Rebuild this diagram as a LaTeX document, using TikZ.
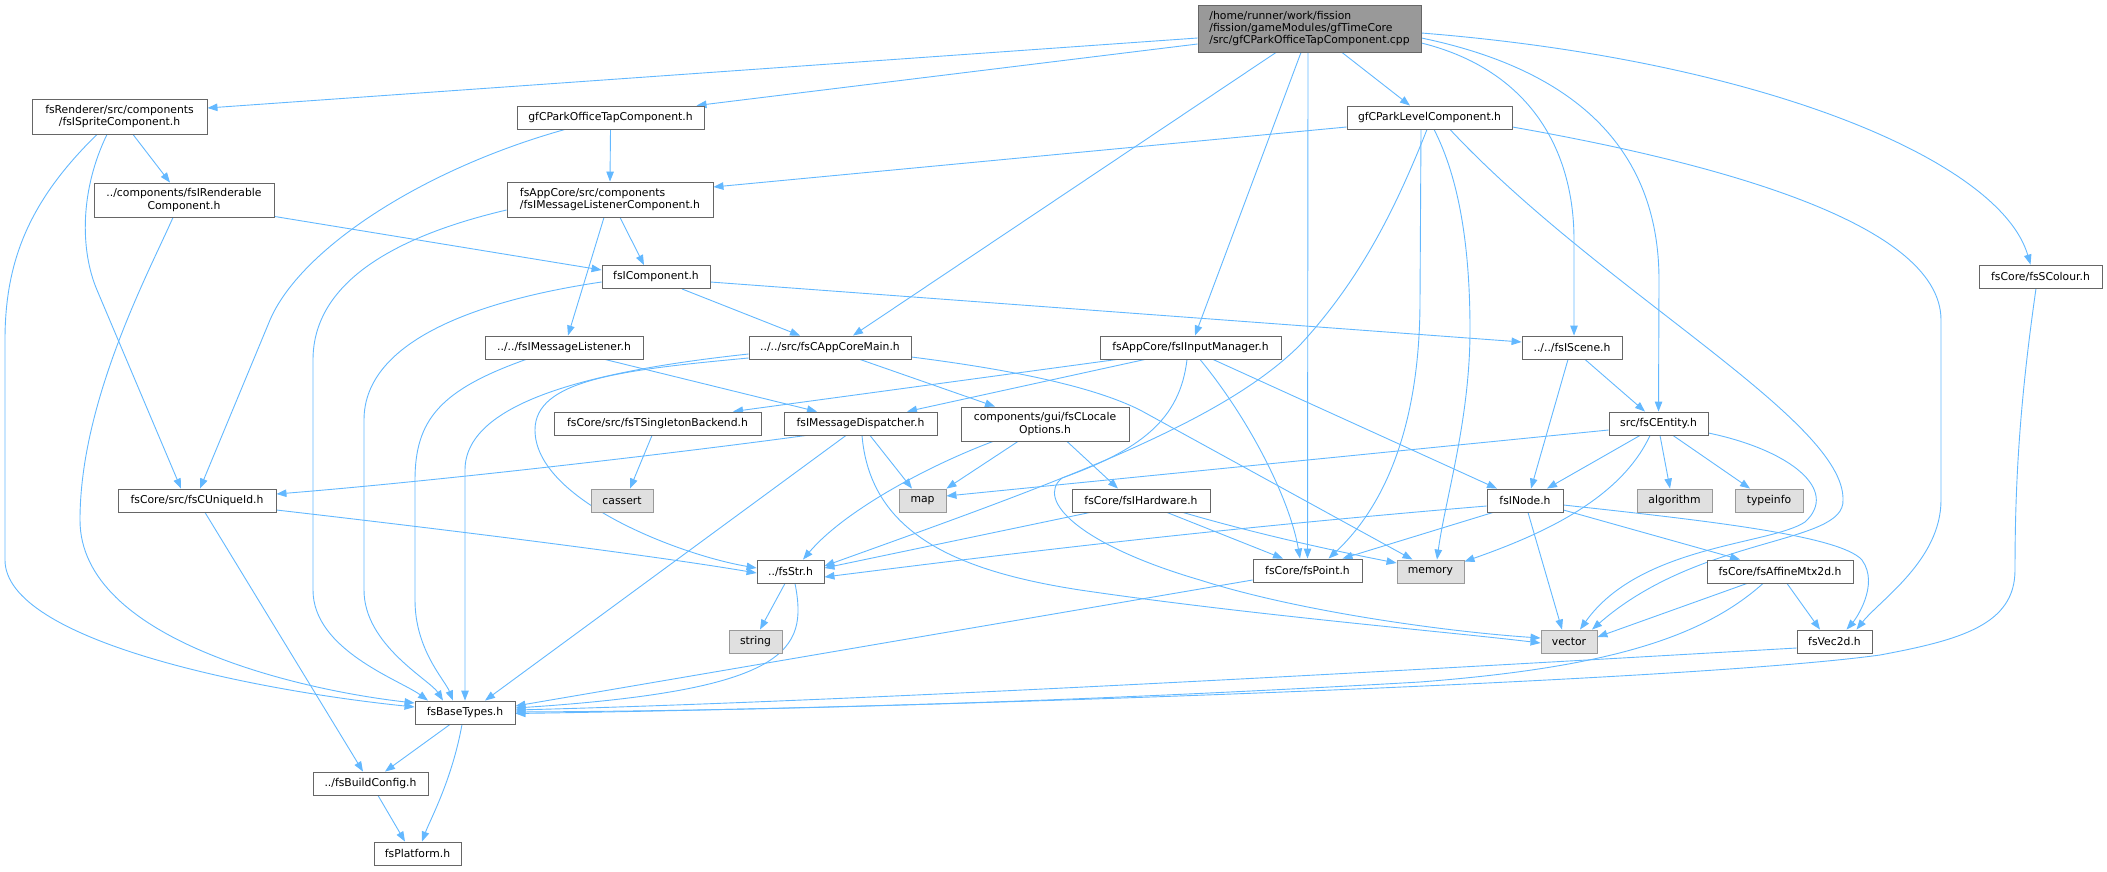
\documentclass[tikz,border=0pt]{standalone}
\usepackage{fontspec}
\setmainfont{DejaVu Sans}
\usetikzlibrary{arrows.meta,backgrounds}
\definecolor{edgec}{HTML}{63B8FF}
\definecolor{bordc}{HTML}{666666}
\definecolor{extb}{HTML}{999999}
\definecolor{extf}{HTML}{E0E0E0}
\begin{document}
\begin{tikzpicture}[x=1pt,y=-1pt,
  nd/.style={draw=bordc, fill=white, line width=0.9pt, inner sep=0pt, align=center, font=\fontsize{10.8}{12.4}\selectfont},
  ext/.style={nd, draw=extb, fill=extf},
  rootbox/.style={nd, fill=extb, align=left},
  sz/.style 2 args={minimum width=#1, minimum height=#2},
  dep/.style={draw=edgec, line width=0.9pt, -{Triangle[length=10pt,width=7.5pt]}},
  ]
\useasboundingbox (0,0) rectangle (2107,871);
\node[rootbox, sz={223pt}{47pt}] (root) at (1309.5,28.5) {/home/runner/work/fission\\/fission/gameModules/gfTimeCore\\/src/gfCParkOfficeTapComponent.cpp};
\node[nd, sz={175pt}{35pt}] (sprite) at (119.5,116.5) {fsRenderer/src/components\\/fsISpriteComponent.h};
\node[nd, sz={187pt}{23pt}] (otap) at (610.5,117.5) {gfCParkOfficeTapComponent.h};
\node[nd, sz={165pt}{23pt}] (level) at (1429.5,117.5) {gfCParkLevelComponent.h};
\node[nd, sz={123pt}{23pt}] (scol) at (2040.5,276.5) {fsCore/fsSColour.h};
\node[nd, sz={180pt}{34pt}] (rend) at (184,200) {../components/fsIRenderable\\Component.h};
\node[nd, sz={206pt}{35pt}, align=left] (mlc) at (610,199.5) {fsAppCore/src/components\\/fsIMessageListenerComponent.h};
\node[nd, sz={108pt}{23pt}] (icomp) at (656,277) {fsIComponent.h};
\node[nd, sz={158pt}{23pt}] (mlis) at (564,347.5) {../../fsIMessageListener.h};
\node[nd, sz={162pt}{23pt}] (acm) at (830,347.5) {../../src/fsCAppCoreMain.h};
\node[nd, sz={181pt}{23pt}] (inp) at (1190.5,347.5) {fsAppCore/fsIInputManager.h};
\node[nd, sz={100pt}{23pt}] (scene) at (1572,347.5) {../../fsIScene.h};
\node[nd, sz={207pt}{23pt}] (single) at (657.5,423.5) {fsCore/src/fsTSingletonBackend.h};
\node[nd, sz={153pt}{23pt}] (disp) at (860.5,423.5) {fsIMessageDispatcher.h};
\node[nd, sz={168pt}{34pt}] (loc) at (1045,424) {components/gui/fsCLocale\\Options.h};
\node[nd, sz={99pt}{23pt}] (ent) at (1658.5,423.5) {src/fsCEntity.h};
\node[nd, sz={158pt}{23pt}] (uid) at (197,500.5) {fsCore/src/fsCUniqueId.h};
\node[ext, sz={62pt}{23pt}] (cassert) at (622,500.5) {cassert};
\node[ext, sz={47pt}{23pt}] (map) at (922.5,500.5) {map};
\node[nd, sz={138pt}{23pt}] (hw) at (1141,500.5) {fsCore/fsIHardware.h};
\node[nd, sz={76pt}{23pt}] (inode) at (1525,500.5) {fsINode.h};
\node[ext, sz={75pt}{23pt}] (algo) at (1674.5,500.5) {algorithm};
\node[ext, sz={68pt}{23pt}] (tinfo) at (1769,500.5) {typeinfo};
\node[nd, sz={67pt}{23pt}] (str) at (790.5,571.5) {../fsStr.h};
\node[nd, sz={109pt}{23pt}] (point) at (1307.5,570.5) {fsCore/fsPoint.h};
\node[ext, sz={67pt}{23pt}] (mem) at (1430.5,571.5) {memory};
\node[nd, sz={146pt}{23pt}] (aff) at (1780,571.5) {fsCore/fsAffineMtx2d.h};
\node[ext, sz={53pt}{23pt}] (string) at (755.5,641.5) {string};
\node[ext, sz={56pt}{23pt}] (vec) at (1569,641.5) {vector};
\node[nd, sz={75pt}{23pt}] (v2d) at (1834.5,641.5) {fsVec2d.h};
\node[nd, sz={100pt}{23pt}] (bt) at (465,712.5) {fsBaseTypes.h};
\node[nd, sz={115pt}{23pt}] (bc) at (370.5,783.5) {../fsBuildConfig.h};
\node[nd, sz={87pt}{23pt}] (plat) at (417.5,853.5) {fsPlatform.h};

\begin{pgfonlayer}{background}
% root
\draw[dep] ([yshift=-9.5pt]root.west) -- ([yshift=8.5pt]sprite.east);
\draw[dep] ([yshift=-15.5pt]root.west) -- ([xshift=86pt]otap.north);
\draw[dep] ([xshift=-33.5pt]root.south) -- ([xshift=23pt]acm.north);
\draw[dep] ([xshift=-8.5pt]root.south) -- ([xshift=4.5pt]inp.north);
\draw[dep] ([xshift=-1.5pt]root.south) -- (point.north);
\draw[dep] ([xshift=32.5pt]root.south) -- ([xshift=-19.5pt]level.north);
\draw[dep] ([yshift=-14.5pt]root.east) .. controls (1530,70) and (1574,150) .. (1574,240) -- ([xshift=2pt]scene.north);
\draw[dep] ([yshift=-9.5pt]root.east) .. controls (1600,75) and (1659,170) .. (1659,280) -- (ent.north);
\draw[dep] ([yshift=-4.5pt]root.east) .. controls (1760,60) and (2000,160) .. ([xshift=-10pt]scol.north);
% sprite
\draw[dep] ([xshift=13.5pt]sprite.south) -- ([xshift=-14pt]rend.north);
\draw[dep] ([xshift=-12.5pt]sprite.south) .. controls (80,190) and (80,250) .. (97,290) -- ([xshift=-16pt]uid.north);
\draw[dep] ([xshift=-22.5pt]sprite.south) .. controls (30,200) and (5,260) .. (5,340) -- (5,560) .. controls (5,640) and (250,690) .. ([yshift=5.5pt]bt.west);
% rend
\draw[dep] ([yshift=1pt]rend.south east) -- ([yshift=7pt]icomp.west);
\draw[dep] ([xshift=-11pt]rend.south) .. controls (150,270) and (80,400) .. (80,520) .. controls (80,640) and (300,690) .. ([yshift=9.5pt]bt.west);
% otap
\draw[dep] (otap.south) -- (mlc.north);
\draw[dep] ([xshift=-45.5pt]otap.south) .. controls (420,170) and (300,250) .. (270,320) -- ([xshift=3pt]uid.north);
% mlc
\draw[dep] ([xshift=10pt]mlc.south) -- ([xshift=-12pt]icomp.north);
\draw[dep] ([xshift=-6pt]mlc.south) -- ([xshift=4pt]mlis.north);
\draw[dep] ([yshift=-10.5pt]mlc.west) .. controls (400,235) and (313,280) .. (313,360) -- (313,590) .. controls (313,650) and (400,680) .. ([xshift=-37pt]bt.north);
% level
\draw[dep] ([yshift=-9.5pt]level.west) -- ([yshift=12.5pt]mlc.east);
\draw[dep] ([xshift=-2.5pt]level.south) .. controls (1395,210) and (1360,280) .. (1300,345) .. controls (1220,425) and (1050,485) .. ([yshift=5.5pt]str.east);
\draw[dep] ([xshift=-8.5pt]level.south) -- (1420,300) .. controls (1420,450) and (1370,520) .. ([xshift=21pt]point.north);
\draw[dep] ([xshift=4.5pt]level.south) .. controls (1460,180) and (1470,250) .. (1470,330) .. controls (1470,420) and (1445,500) .. ([xshift=6.5pt]mem.north);
\draw[dep] ([xshift=20.5pt]level.south) .. controls (1600,290) and (1845,420) .. (1843,500) .. controls (1845,545) and (1700,535) .. ([xshift=23pt]vec.north);
\draw[dep] ([yshift=-9.5pt]level.east) .. controls (1700,160) and (1941,220) .. (1941,320) -- (1941,500) .. controls (1941,560) and (1880,600) .. ([xshift=22pt]v2d.north);
% scol
\draw[dep] ([xshift=-4.5pt]scol.south) .. controls (2020,400) and (2015,480) .. (2015,570) .. controls (2015,625) and (1960,640) .. (1880,655) .. controls (1700,680) and (1000,706) .. ([yshift=-1pt]bt.east);
% icomp
\draw[dep] ([xshift=26pt]icomp.south) -- ([xshift=-30pt]acm.north);
\draw[dep] ([yshift=-5pt]icomp.east) -- ([yshift=5.5pt]scene.west);
\draw[dep] ([yshift=-5pt]icomp.west) .. controls (480,300) and (364,340) .. (364,420) -- (364,590) .. controls (364,645) and (430,680) .. ([xshift=-22pt]bt.north);
% mlis
\draw[dep] ([xshift=41pt]mlis.south) -- ([xshift=-43.5pt]disp.north);
\draw[dep] ([xshift=-38pt]mlis.south) .. controls (440,390) and (415,420) .. (415,480) -- (415,600) .. controls (415,650) and (445,680) .. ([xshift=-12pt]bt.north);
% acm
\draw[dep] ([xshift=30pt]acm.south) -- ([xshift=-50pt]loc.north);
\draw[dep] ([yshift=-9.5pt]acm.east) .. controls (1030,372) and (1100,390) .. (1140,410) -- ([xshift=-18pt]mem.north);
\draw[dep] ([yshift=-6.5pt]acm.west) .. controls (600,370) and (465,400) .. (465,470) -- (bt.north);
\draw[dep] ([yshift=-10.5pt]acm.west) .. controls (620,370) and (535,380) .. (535,430) .. controls (535,500) and (680,555) .. ([yshift=3.5pt]str.west);
% inp
\draw[dep] ([xshift=-73.5pt]inp.south) -- ([xshift=75.5pt]single.north);
\draw[dep] ([xshift=-45.5pt]inp.south) -- ([xshift=46.5pt]disp.north);
\draw[dep] ([xshift=9.5pt]inp.south) .. controls (1250,420) and (1290,500) .. ([xshift=-7.5pt]point.north);
\draw[dep] ([xshift=22.5pt]inp.south) -- ([xshift=-28pt]inode.north);
\draw[dep] ([xshift=-3.5pt]inp.south) .. controls (1180,420) and (1140,450) .. (1062,478) .. controls (1035,500) and (1080,545) .. (1200,580) .. controls (1300,612) and (1450,632) .. ([yshift=3.5pt]vec.west);
% scene
\draw[dep] ([xshift=13pt]scene.south) -- ([xshift=-13.5pt]ent.north);
\draw[dep] ([xshift=-4pt]scene.south) -- ([xshift=6pt]inode.north);
% single
\draw[dep] ([xshift=-5.5pt]single.south) -- ([xshift=8pt]cassert.north);
% disp
\draw[dep] ([xshift=-54.5pt]disp.south) .. controls (700,450) and (450,480) .. ([yshift=6.5pt]uid.east);
\draw[dep] ([xshift=9.5pt]disp.south) -- ([xshift=-10.5pt]map.north);
\draw[dep] ([xshift=-14.5pt]disp.south) -- ([xshift=20pt]bt.north);
\draw[dep] ([xshift=1.5pt]disp.south) .. controls (870,530) and (950,570) .. (1080,590) .. controls (1250,615) and (1450,632) .. ([yshift=-1.5pt]vec.west);
% loc
\draw[dep] ([xshift=-27pt]loc.south) -- (map.north east);
\draw[dep] ([xshift=-52pt]loc.south) .. controls (930,465) and (845,510) .. ([xshift=12.5pt]str.north);
\draw[dep] ([xshift=22pt]loc.south) -- ([xshift=-23pt]hw.north);
% ent
\draw[dep] ([yshift=-6.5pt]ent.west) -- ([yshift=4.5pt]map.east);
\draw[dep] ([xshift=-18.5pt]ent.south) -- ([xshift=22pt]inode.north);
\draw[dep] ([xshift=-8.5pt]ent.south) .. controls (1620,500) and (1540,535) .. ([yshift=-2pt]mem.north east);
\draw[dep] ([xshift=1.5pt]ent.south) -- ([xshift=-4.5pt]algo.north);
\draw[dep] ([xshift=14.5pt]ent.south) -- ([xshift=-19pt]tinfo.north);
\draw[dep] ([yshift=-9.5pt]ent.east) .. controls (1790,450) and (1840,490) .. (1805,522) .. controls (1770,545) and (1640,545) .. ([xshift=11pt]vec.north);
% uid
\draw[dep] ([yshift=-9.5pt]uid.east) .. controls (450,530) and (650,555) .. ([yshift=-1.5pt]str.west);
\draw[dep] ([xshift=8pt]uid.south) -- ([xshift=-7.5pt]bc.north);
% hw
\draw[dep] ([xshift=-51pt]hw.south) -- ([yshift=3.5pt]str.east);
\draw[dep] ([xshift=26pt]hw.south) -- ([xshift=-24.5pt]point.north);
\draw[dep] ([xshift=42pt]hw.south) .. controls (1260,535) and (1340,552) .. ([yshift=8.5pt]mem.west);
% inode
\draw[dep] ([yshift=-5.5pt]inode.west) .. controls (1200,530) and (1000,555) .. ([yshift=-5.5pt]str.east);
\draw[dep] ([xshift=-32pt]inode.south) -- ([xshift=35pt]point.north);
\draw[dep] ([xshift=3pt]inode.south) -- ([xshift=-7pt]vec.north);
\draw[dep] ([yshift=-9.5pt]inode.east) -- ([xshift=-40pt]aff.north);
\draw[dep] ([yshift=-4.5pt]inode.east) .. controls (1700,520) and (1840,535) .. (1862,560) .. controls (1880,585) and (1855,620) .. ([xshift=12pt]v2d.north);
% point
\draw[dep] ([yshift=-9.5pt]point.west) -- ([yshift=6.5pt]bt.east);
% aff
\draw[dep] ([xshift=-33pt]aff.south) -- ([yshift=4.5pt]vec.east);
\draw[dep] ([xshift=7pt]aff.south) -- ([xshift=-14.5pt]v2d.north);
\draw[dep] ([xshift=-17pt]aff.south) .. controls (1700,640) and (1600,668) .. (1420,682) .. controls (1000,706) and (700,711) .. ([yshift=0.5pt]bt.east);
% v2d
\draw[dep] ([yshift=-6.5pt]v2d.west) .. controls (1500,665) and (900,700) .. ([yshift=2.5pt]bt.east);
% str
\draw[dep] ([xshift=-5.5pt]str.south) -- ([xshift=4.5pt]string.north);
\draw[dep] ([xshift=4.5pt]str.south) .. controls (808,650) and (790,690) .. ([yshift=4.5pt]bt.east);
% bt
\draw[dep] ([xshift=-15pt]bt.south) -- ([xshift=14.5pt]bc.north);
\draw[dep] ([xshift=-3pt]bt.south) .. controls (452,780) and (430,820) .. ([xshift=4.5pt]plat.north);
\draw[dep] ([xshift=7.5pt]bc.south) -- ([xshift=-12.5pt]plat.north);
\end{pgfonlayer}
\end{tikzpicture}
\end{document}
